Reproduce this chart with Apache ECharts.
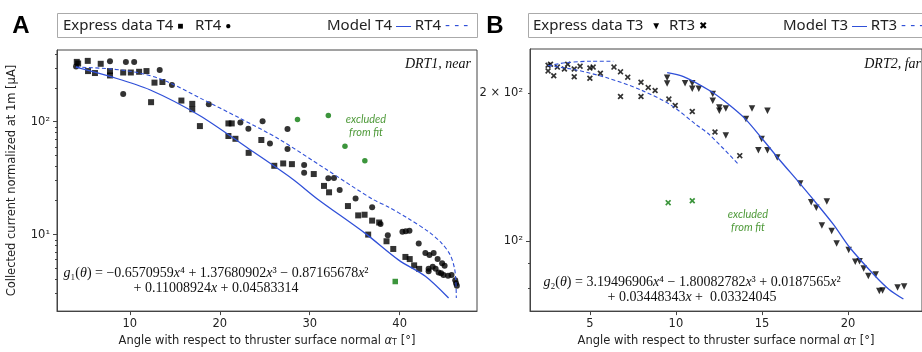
<!DOCTYPE html>
<html><head><meta charset="utf-8">
<script src="https://cdn.jsdelivr.net/npm/echarts@6/dist/echarts.min.js"></script>
<style>html,body{margin:0;padding:0;background:#fff}#c{width:922px;height:352px}</style>
</head><body><div id="c"></div>
<script>
// ---------- Panel A (DRT1, near) ----------
const aT4 = [[4.10,339],[4.25,328],[5.32,346],[5.35,281],[6.12,270],[6.76,326],[7.79,281],[7.79,257],[9.26,273],[10.11,273],[11.03,277],[11.85,281],[12.36,149],[12.74,222],[13.62,225],[15.73,154],[16.94,144],[16.94,129],[17.79,91.5],[20.96,96.6],[21.33,96.6],[20.96,74.7],[21.74,70.6],[23.21,53],[24.62,68.9],[26.06,40.7],[27.05,42.7],[28.02,42.1],[30.45,34.4],[31.59,27],[32.15,23.7],[34.25,17.9],[35.39,14.8],[36.10,15.0],[36.94,13.3],[37.72,12.8],[36.50,10.0],[38.54,8.73],[39.29,7.46],[40.64,6.34],[41.12,6.07],[41.61,5.34],[42.17,4.97]];
const aRT4 = [[4.02,308],[7.79,344],[9.26,176],[9.56,339],[10.48,339],[13.32,287],[14.68,212],[18.78,143],[22.29,98.6],[23.18,86.8],[24.76,101],[25.58,64],[27.53,86],[27.53,57.4],[29.38,41.3],[29.38,35.3],[32.07,31.5],[32.70,31.7],[33.33,24.9],[35.10,20.9],[36.94,17.5],[37.87,12.4],[38.68,9.86],[40.31,10.6],[40.68,10.7],[41.09,10.8],[42.12,8.33],[42.86,6.88],[43.31,6.60],[43.78,6.88],[44.22,6.07],[44.72,5.56],[45.0,5.31],[43.22,4.99],[43.67,5.20],[44.0,4.99],[43.22,4.73],[44.33,4.61],[44.61,4.55],[44.88,4.39],[45.38,4.33],[45.77,4.39],[46.18,3.94],[46.27,3.71],[46.36,3.52]];
const aExcludedRT4 = [[28.64,104.8],[32.07,113.6],[33.92,60.6],[36.13,45.0]];
const aExcludedT4 = [[39.51,3.84]];
const aModelT4 = [[4.0,305],[7.79,252],[12.21,192],[17.75,113.6],[23.29,57.1],[28.08,31.1],[30.85,20.7],[36.21,10.2],[39.9,5.94],[42.86,4.27],[45.44,2.74]];
const aModelRT4 = [[4.0,305],[7.79,294],[11.11,270],[14.06,228],[17.75,163],[22.18,108],[26.61,69.9],[31.78,38.1],[36.94,20.7],[38.79,17.5],[41.0,13.8],[43.22,10.6],[44.70,8.33],[45.63,6.58],[46.1,5.02],[46.25,3.84],[46.3,2.74]];
const aXTicks = [10,20,30,40];
const aYMajor = [10,100];
const aYMinor = [3,4,5,6,7,8,9,20,30,40,50,60,70,80,90,200,300,400];
const aYLabels = {10:'10¹',100:'10²'};

// ---------- Panel B (DRT2, far) ----------
const bT3 = [[9.49,215.1],[9.49,209.2],[10.53,209.5],[10.95,209.5],[10.95,204.1],[11.33,204.1],[12.14,199.1],[12.14,192.9],[12.52,187],[12.52,184.1],[12.90,186.2],[14.42,186.2],[15.32,184.1],[14.07,177.1],[12.90,163.9],[14.98,161.4],[14.79,153],[15.32,153],[15.89,148],[17.22,130.9],[17.86,120],[18.77,120.4],[18.16,116.9],[18.48,107.5],[19.05,104.8],[19.34,98.8],[20.04,95.9],[20.42,90.7],[20.67,91.0],[20.91,87.9],[21.18,84.9],[21.61,85.5],[21.82,79.1],[22.01,79.3],[22.88,80.4],[23.26,80.8]];
const bRT3 = [[2.57,228],[2.71,229],[2.57,222],[2.90,217],[3.11,226],[3.52,224],[3.71,229],[4.09,224],[4.09,216],[4.43,227],[5.0,225],[5.19,226],[5.0,214.5],[5.61,219.6],[6.40,226],[6.78,221],[7.20,215.6],[6.78,196.9],[7.97,210.5],[7.97,196.9],[8.39,205.3],[8.79,202.5],[9.59,194.5],[9.96,188.7],[10.95,183.5],[12.27,166.7],[13.71,149.2]];
const bExcludedRT3 = [[9.55,119.7],[10.95,120.8]];
const bModelT3 = [[9.49,220.2],[10.44,216.2],[12.05,201.5],[13.09,189.4],[14.04,177.1],[14.98,162.1],[15.93,147.6],[17.26,130.3],[17.82,123.4],[19.15,108.1],[20.1,97],[21.48,85.6],[22.37,79.8],[23.22,76.2]];
const bModelRT3a = [[2.57,227.5],[3.62,230.7],[5.13,232.3],[6.36,232.3]];
const bModelRT3b = [[2.57,227.7],[4.19,223],[6.08,214.5],[7.97,203],[9.68,189.4],[11.19,172.4],[11.95,164.6],[13.65,143.1]];
const bXTicks = [5,10,15,20];
const bYMajor = [100];
const bYMinor = [80,90,200];
const bYLabels = {100:'10²',200:'2 × 10²'};

const BLUE = '#3050d8';
const GREEN = '#0b7a0b';
const FRAME = '#444';
const SANS = '"DejaVu Sans", sans-serif';
const SERIF = '"Liberation Serif", "DejaVu Serif", serif';
const crossPath = 'path://M2,0 L5,3 L8,0 L10,2 L7,5 L10,8 L8,10 L5,7 L2,10 L0,8 L3,5 L0,2 Z';

const chart = echarts.init(document.getElementById('c'), null, {renderer:'canvas'});

function xAxisDef(gi, min, max, ticks){
  return {
    type:'value', gridIndex:gi, min:min, max:max,
    splitLine:{show:false},
    axisLine:{show:true, lineStyle:{color:FRAME, width:1}},
    axisTick:{show:true, length:4, lineStyle:{color:FRAME}, customValues:ticks},
    axisLabel:{show:true, color:'#222', fontFamily:SANS, fontSize:11.5, margin:7, customValues:ticks},
    name:'Angle with respect to thruster surface normal {it|α}{sub|T} [°]',
    nameLocation:'middle', nameGap:22,
    nameTextStyle:{color:'#222', fontFamily:SANS, fontSize:11.5,
      rich:{it:{fontFamily:SANS, fontSize:11.5, fontStyle:'italic', color:'#222'},
            sub:{fontFamily:SANS, fontSize:8, color:'#222', verticalAlign:'bottom', padding:[4,0,0,0]}}}
  };
}
function yMajor(gi, min, max, ticks, labels, name){
  return {
    type:'log', logBase:10, gridIndex:gi, min:min, max:max,
    splitLine:{show:false}, minorTick:{show:false},
    axisLine:{show:true, lineStyle:{color:FRAME, width:1}},
    axisTick:{show:true, length:4, lineStyle:{color:FRAME}, customValues:ticks},
    axisLabel:{show:true, color:'#222', fontFamily:SANS, fontSize:11.5, margin:7, customValues:ticks,
      formatter:function(v){ const k = Math.round(v); return labels[k] || ''; }},
    name:name||'', nameLocation:'middle', nameGap:39, nameRotate:90,
    nameTextStyle:{color:'#222', fontFamily:SANS, fontSize:11.5}
  };
}
function yMinor(gi, min, max, ticks, labels){
  return {
    type:'log', logBase:10, gridIndex:gi, min:min, max:max, position:'left',
    splitLine:{show:false},
    axisLine:{show:false},
    axisTick:{show:true, length:2, lineStyle:{color:FRAME}, customValues:ticks},
    axisLabel:{show:true, color:'#222', fontFamily:SANS, fontSize:11.5, margin:7, customValues:ticks,
      formatter:function(v){ const k = Math.round(v); return labels[k] || ''; }}
  };
}

const option = {
  animation:false,
  backgroundColor:'#fff',
  grid:[
    {left:57, top:50, width:420, height:263, show:true, borderColor:FRAME, borderWidth:1, backgroundColor:'transparent'},
    {left:530, top:49, width:401, height:263, show:true, borderColor:FRAME, borderWidth:1, backgroundColor:'transparent'}
  ],
  xAxis:[ xAxisDef(0, 1.9, 48.6, aXTicks), xAxisDef(1, 1.52, 24.3, bXTicks) ],
  yAxis:[
    yMajor(0, 2.1, 432, aYMajor, aYLabels, 'Collected current normalized at 1m [μA]'),
    yMinor(0, 2.1, 432, aYMinor, {}),
    yMajor(1, 72, 246, bYMajor, bYLabels, ''),
    yMinor(1, 72, 246, bYMinor, bYLabels)
  ],
  series:[
    {type:'scatter', xAxisIndex:0, yAxisIndex:0, data:aT4, symbol:'rect', symbolSize:6, itemStyle:{color:'#000'}},
    {type:'scatter', xAxisIndex:0, yAxisIndex:0, data:aRT4, symbol:'circle', symbolSize:6, itemStyle:{color:'#000'}},
    {type:'scatter', xAxisIndex:0, yAxisIndex:0, data:aExcludedRT4, symbol:'circle', symbolSize:5.5, itemStyle:{color:GREEN}},
    {type:'scatter', xAxisIndex:0, yAxisIndex:0, data:aExcludedT4, symbol:'rect', symbolSize:5.5, itemStyle:{color:GREEN}},
    {type:'line', xAxisIndex:0, yAxisIndex:0, data:aModelT4, showSymbol:false, smooth:0.3, lineStyle:{color:BLUE, width:1.3}, z:5},
    {type:'line', xAxisIndex:0, yAxisIndex:0, data:aModelRT4, showSymbol:false, smooth:0.3, lineStyle:{color:BLUE, width:1.1, type:[4,2.5]}, z:5},

    {type:'scatter', xAxisIndex:1, yAxisIndex:2, data:bT3, symbol:'triangle', symbolRotate:180, symbolSize:6.5, itemStyle:{color:'#000'}},
    {type:'scatter', xAxisIndex:1, yAxisIndex:2, data:bRT3, symbol:crossPath, symbolSize:6, itemStyle:{color:'#000'}},
    {type:'scatter', xAxisIndex:1, yAxisIndex:2, data:bExcludedRT3, symbol:crossPath, symbolSize:6, itemStyle:{color:GREEN}},
    {type:'line', xAxisIndex:1, yAxisIndex:2, data:bModelT3, showSymbol:false, smooth:0.3, lineStyle:{color:BLUE, width:1.3}, z:5},
    {type:'line', xAxisIndex:1, yAxisIndex:2, data:bModelRT3a, showSymbol:false, smooth:0.3, lineStyle:{color:BLUE, width:1.1, type:[4,2.5]}, z:5},
    {type:'line', xAxisIndex:1, yAxisIndex:2, data:bModelRT3b, showSymbol:false, smooth:0.3, lineStyle:{color:BLUE, width:1.1, type:[4,2.5]}, z:5}
  ],
  graphic:[
    {type:'rect', shape:{x:57.5, y:13.5, width:420, height:24}, style:{fill:'#fff', stroke:'#aaa', lineWidth:1}},
    {type:'rect', shape:{x:528.5, y:13.5, width:410, height:24}, style:{fill:'#fff', stroke:'#aaa', lineWidth:1}},
    {type:'text', x:21, y:26, style:{text:'A', font:'bold 24px "Liberation Sans", Arial, sans-serif', fill:'#000', align:'center', verticalAlign:'middle'}},
    {type:'text', x:495, y:26, style:{text:'B', font:'bold 24px "Liberation Sans", Arial, sans-serif', fill:'#000', align:'center', verticalAlign:'middle'}},
    {type:'text', x:63, y:26, style:{text:'Express data T4 {g|■}   RT4 {g|●}', font:'15px "Noto Sans", sans-serif', fill:'#222', verticalAlign:'middle',
      rich:{g:{fontSize:10, fill:'#000'}}}},
    {type:'text', x:327, y:26, style:{text:'Model T4 {b|—} RT4 {b|- - -}', font:'15px "Noto Sans", sans-serif', fill:'#222', verticalAlign:'middle',
      rich:{b:{fill:BLUE, fontSize:15}}}},
    {type:'text', x:533, y:26, style:{text:'Express data T3  {g|▼}  RT3 {g|✖}', font:'15px "Noto Sans", sans-serif', fill:'#222', verticalAlign:'middle',
      rich:{g:{fontSize:10, fill:'#000'}}}},
    {type:'text', x:783, y:26, style:{text:'Model T3 {b|—} RT3 {b|- - -}', font:'15px "Noto Sans", sans-serif', fill:'#222', verticalAlign:'middle',
      rich:{b:{fill:BLUE, fontSize:15}}}},
    {type:'text', x:471, y:64, style:{text:'DRT1, near', font:'italic 14px '+SERIF, fill:'#111', align:'right', verticalAlign:'middle'}},
    {type:'text', x:921, y:64, style:{text:'DRT2, far', font:'italic 14px '+SERIF, fill:'#111', align:'right', verticalAlign:'middle'}},
    {type:'text', x:366, y:126, style:{text:'excluded\nfrom fit', font:'italic 11px Lato, sans-serif', fill:'#4f9a3a', align:'center', verticalAlign:'middle', lineHeight:13}},
    {type:'text', x:748, y:221, style:{text:'excluded\nfrom fit', font:'italic 11px Lato, sans-serif', fill:'#4f9a3a', align:'center', verticalAlign:'middle', lineHeight:13}},
    {type:'text', x:216, y:281, style:{text:'{i|g}₁({i|θ}) = −0.6570959{i|x}⁴ + 1.37680902{i|x}³ − 0.87165678{i|x}²\n+ 0.11008924{i|x} + 0.04583314',
      font:'14px '+SERIF, fill:'#111', align:'center', verticalAlign:'middle', lineHeight:14.5,
      rich:{i:{fontStyle:'italic', fontFamily:SERIF, fontSize:14, fill:'#111'}}}},
    {type:'text', x:692, y:290, style:{text:'{i|g}₂({i|θ}) = 3.19496906{i|x}⁴ − 1.80082782{i|x}³ + 0.0187565{i|x}²\n+ 0.03448343{i|x} +  0.03324045',
      font:'14px '+SERIF, fill:'#111', align:'center', verticalAlign:'middle', lineHeight:14.5,
      rich:{i:{fontStyle:'italic', fontFamily:SERIF, fontSize:14, fill:'#111'}}}}
  ]
};
chart.setOption(option);
</script></body></html>
